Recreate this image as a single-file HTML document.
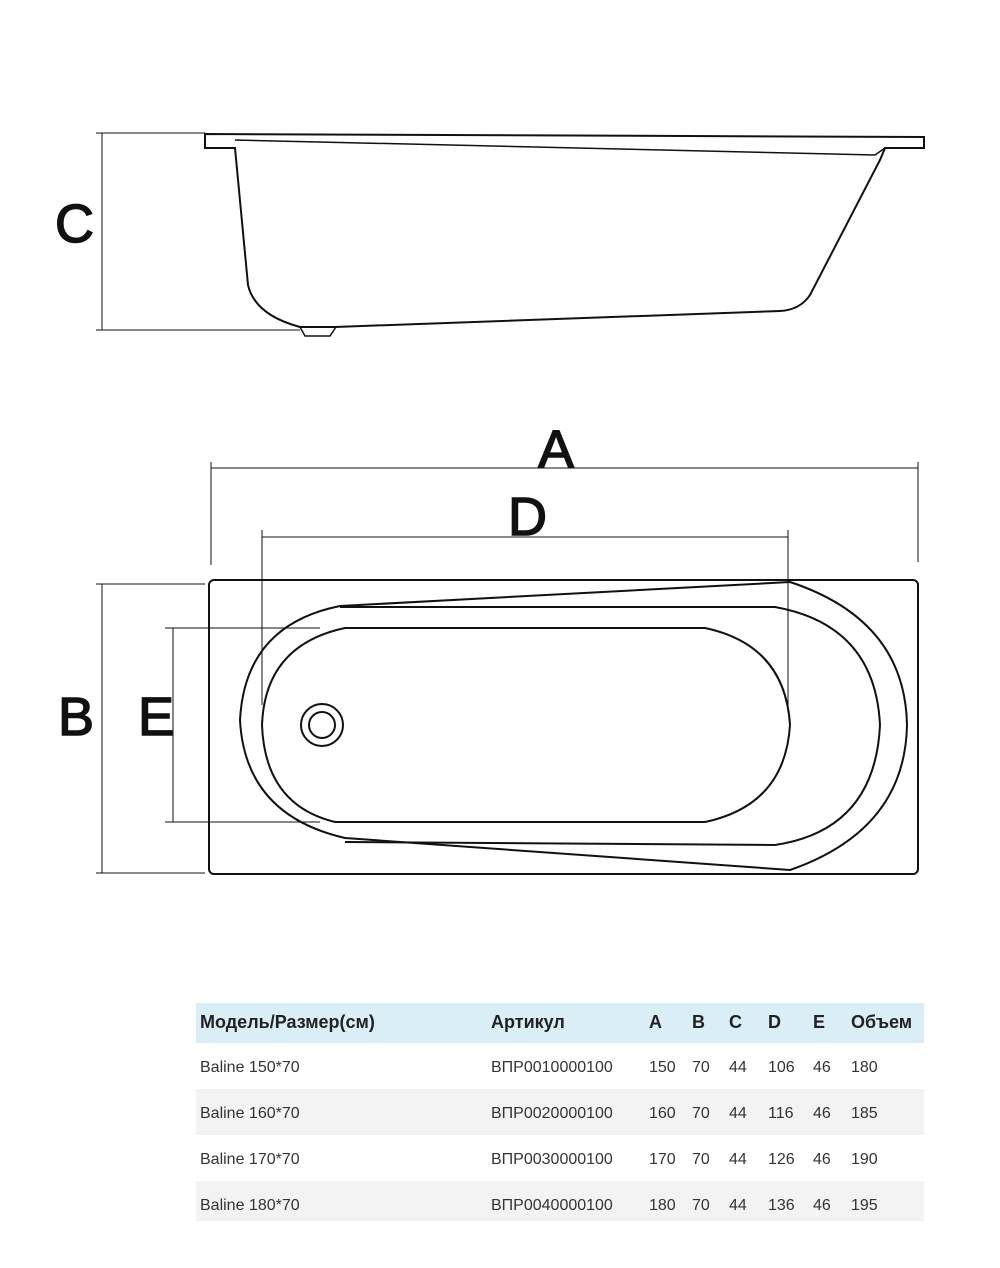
<!DOCTYPE html>
<html><head><meta charset="utf-8"><style>
body{margin:0;background:#fff;width:1000px;height:1268px;position:relative;overflow:hidden;font-family:"Liberation Sans",sans-serif}
svg{position:absolute;left:0;top:0}
.t{position:absolute;left:196px;top:1003px;width:728px}
.r{height:46px;position:relative;font-size:16px;color:#333}
.r span{position:absolute;top:16px}
.h{background:#daeef8;height:40px;font-weight:bold;font-size:18px;color:#222}
.h span{top:9px}
.g{background:#f3f3f3}
</style></head><body>
<svg width="1000" height="1268" viewBox="0 0 1000 1268" fill="none" stroke="#111" stroke-width="2">
<path d="M205 134 L924 137 L924 148 L885 148 L880 160 L810 295 Q800 310 780 311 L335 327 L300 327 Q255 315 248 285 L235 148 L205 148 Z"/>
<path d="M235 140 L875 155 L885 148" stroke-width="1.5"/>
<path d="M300 327 L305 336 L330 336 L336 327" stroke-width="1.5"/>
<g stroke-width="1">
<path d="M96 133 H205 M96 330 H300 M102 133 V330"/>
<path d="M211 462 V565 M918 462 V562 M211 468 H918"/>
<path d="M262 530 V705 M788 530 V705 M262 537 H788"/>
<path d="M96 584 H205 M96 873 H205 M102 584 V873"/>
<path d="M165 628 H320 M165 822 H320 M173 628 V822"/>
</g>
<rect x="209" y="580" width="709" height="294" rx="5"/>
<path d="M340 606 L790 582 Q905 620 907 725 Q905 830 790 870 L345 838 Q245 815 240 720 Q245 625 340 606 Z"/>
<path d="M340 607 L775 607 Q875 625 880 725 Q875 830 775 845 L345 842"/>
<path d="M345 628 L705 628 Q785 645 790 725 Q785 805 705 822 L335 822 Q265 805 262 725 Q265 645 345 628 Z"/>
<circle cx="322" cy="725" r="21"/><circle cx="322" cy="725" r="13"/>
<g fill="#111" stroke="#111" stroke-width="1.5" font-family="Liberation Sans,sans-serif" font-size="54">
<text x="55" y="242">C</text>
<text x="538" y="468">A</text>
<text x="508" y="535">D</text>
<text x="58" y="735">B</text>
<text x="138" y="735">E</text>
</g>
</svg>
<div class="t">
<div class="r h"><span style="left:4px">Модель/Размер(см)</span><span style="left:295px">Артикул</span><span style="left:453px">A</span><span style="left:496px">B</span><span style="left:533px">C</span><span style="left:572px">D</span><span style="left:617px">E</span><span style="left:655px">Объем</span></div>
<div class="r"><span style="left:4px">Baline 150*70</span><span style="left:295px">ВПР0010000100</span><span style="left:453px">150</span><span style="left:496px">70</span><span style="left:533px">44</span><span style="left:572px">106</span><span style="left:617px">46</span><span style="left:655px">180</span></div>
<div class="r g"><span style="left:4px">Baline 160*70</span><span style="left:295px">ВПР0020000100</span><span style="left:453px">160</span><span style="left:496px">70</span><span style="left:533px">44</span><span style="left:572px">116</span><span style="left:617px">46</span><span style="left:655px">185</span></div>
<div class="r"><span style="left:4px">Baline 170*70</span><span style="left:295px">ВПР0030000100</span><span style="left:453px">170</span><span style="left:496px">70</span><span style="left:533px">44</span><span style="left:572px">126</span><span style="left:617px">46</span><span style="left:655px">190</span></div>
<div class="r g" style="height:40px"><span style="left:4px">Baline 180*70</span><span style="left:295px">ВПР0040000100</span><span style="left:453px">180</span><span style="left:496px">70</span><span style="left:533px">44</span><span style="left:572px">136</span><span style="left:617px">46</span><span style="left:655px">195</span></div>
</div>
</body></html>
